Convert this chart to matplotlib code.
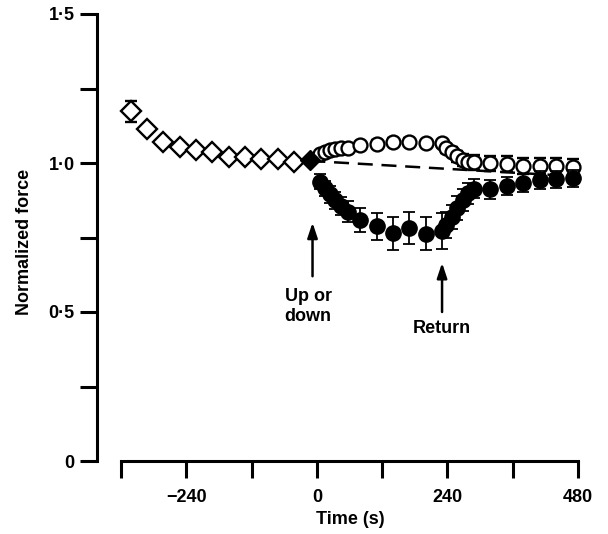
import matplotlib.pyplot as plt
from matplotlib.ticker import FixedLocator

# Control period before the change (open diamonds), last point filled
t_ctrl = [-342, -312, -282, -252, -222, -192, -162, -132, -102, -72, -42, -12]
f_ctrl = [1.174, 1.114, 1.069, 1.055, 1.044, 1.036, 1.021, 1.019, 1.013, 1.013, 1.004, 1.010]
e_ctrl = [0.035, 0.015, 0.008, 0, 0, 0, 0, 0, 0, 0, 0, 0]

# Times after change (s)
t_test = [5, 15, 24, 33, 44, 57, 80, 110, 140, 170, 200, 230,
          238, 248, 258, 269, 278, 289, 319, 350, 379, 410, 439, 470]

# Open circles (up)
f_up = [1.030, 1.038, 1.043, 1.047, 1.050, 1.052, 1.060, 1.064, 1.071, 1.071, 1.066, 1.066,
        1.049, 1.038, 1.023, 1.010, 1.002, 1.003, 0.999, 0.996, 0.990, 0.990, 0.990, 0.988]
e_up = [0.008, 0.008, 0.008, 0.008, 0.008, 0.008, 0.01, 0.012, 0.012, 0.012, 0.012, 0.012,
        0.015, 0.015, 0.018, 0.02, 0.022, 0.025, 0.025, 0.026, 0.026, 0.026, 0.026, 0.026]

# Filled circles (down)
f_down = [0.937, 0.915, 0.895, 0.875, 0.857, 0.837, 0.809, 0.788, 0.764, 0.781, 0.763, 0.772,
          0.792, 0.820, 0.848, 0.876, 0.898, 0.913, 0.912, 0.923, 0.934, 0.943, 0.945, 0.949]
e_down = [0.025, 0.025, 0.028, 0.028, 0.03, 0.035, 0.039, 0.045, 0.055, 0.053, 0.056, 0.059,
          0.045, 0.04, 0.04, 0.038, 0.035, 0.032, 0.032, 0.03, 0.03, 0.029, 0.029, 0.029]

# Dashed baseline extrapolation
t_base = [-12, 480]
f_base = [1.007, 0.955]

plt.rcParams['font.family'] = 'Liberation Sans'
plt.rcParams['font.weight'] = 'bold'
FS = 13

fig = plt.figure(figsize=(6.08, 5.34), dpi=100)
ax = fig.add_axes([97 / 608, 73 / 534, 492 / 608, 447 / 534])
ax.set_xlim(-404, 500)
ax.set_ylim(0, 1.5)

ax.plot(t_base, f_base, color='black', lw=1.8, dashes=(6, 3.5), zorder=2)

ax.errorbar(t_ctrl[:-1], f_ctrl[:-1], yerr=e_ctrl[:-1], fmt='D', ms=10, mfc='white',
            mec='black', mew=1.7, ecolor='black', elinewidth=1.3, capsize=4, capthick=1.3,
            clip_on=False, zorder=3)
ax.plot(t_ctrl[-1:], f_ctrl[-1:], 'D', ms=10, mfc='black', mec='black', zorder=5)

ax.errorbar(t_test, f_up, yerr=e_up, fmt='o', ms=10, mfc='white', mec='black', mew=1.7,
            ecolor='black', elinewidth=1.3, capsize=4, capthick=1.3, zorder=3)
ax.errorbar(t_test, f_down, yerr=e_down, fmt='o', ms=11, mfc='black', mec='black',
            ecolor='black', elinewidth=1.3, capsize=4, capthick=1.3, zorder=4)

# Arrows and labels
arrow = dict(arrowstyle='-|>,head_length=0.9,head_width=0.3', color='black', lw=1.8,
             shrinkA=0, shrinkB=0)
ax.annotate('', xy=(-8, 0.80), xytext=(-8, 0.62), arrowprops=arrow)
ax.annotate('', xy=(230, 0.665), xytext=(230, 0.50), arrowprops=arrow)
ax.text(-16, 0.518, 'Up or\ndown', ha='center', va='center', fontsize=FS,
        linespacing=1.2)
ax.text(230, 0.445, 'Return', ha='center', va='center', fontsize=FS)

# Axes styling
for side in ['top', 'right']:
    ax.spines[side].set_visible(False)
ax.spines['left'].set_linewidth(2.2)
ax.spines['bottom'].set_linewidth(2.2)
ax.spines['left'].set_bounds(0, 1.5)
ax.spines['bottom'].set_bounds(-360, 480)

ax.yaxis.set_major_locator(FixedLocator([0, 0.5, 1.0, 1.5]))
ax.yaxis.set_minor_locator(FixedLocator([0.25, 0.75, 1.25]))
ax.set_yticklabels(['0', '0·5', '1·0', '1·5'])
ax.xaxis.set_major_locator(FixedLocator([-240, 0, 240, 480]))
ax.xaxis.set_minor_locator(FixedLocator([-360, -120, 120, 360]))
ax.set_xticklabels(['\u2212240', '0', '240', '480'])

ax.tick_params(axis='both', which='both', direction='out', width=2.2, length=12,
               labelsize=FS)
ax.tick_params(axis='y', which='both', pad=4)
ax.tick_params(axis='x', which='both', pad=8)

fig.text(350 / 608, 1 - 519 / 534, 'Time (s)', ha='center', va='center', fontsize=FS)
fig.text(25 / 608, 1 - 242 / 534, 'Normalized force', ha='center', va='center',
         rotation=90, fontsize=FS)

fig.savefig('out.png', dpi=100)
